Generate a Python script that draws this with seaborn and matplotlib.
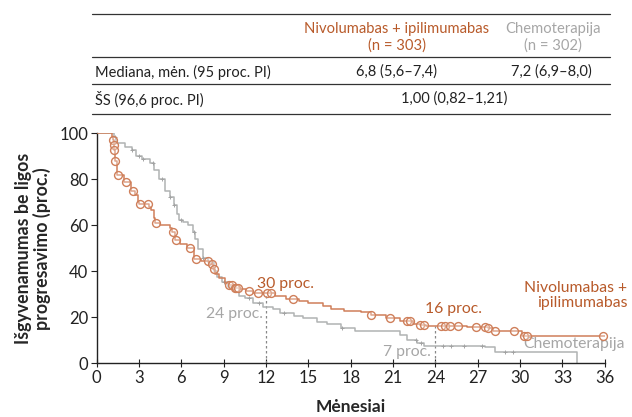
import numpy as np
import pandas as pd
import matplotlib
matplotlib.use("Agg")
import matplotlib.pyplot as plt
from matplotlib.lines import Line2D
import seaborn as sns

# ---------------- data ----------------
nivo_t = [0, 1.05, 1.15, 1.2, 1.25, 1.3, 1.45, 1.9, 2.4, 2.7, 2.9, 3.0, 3.7, 3.85, 4.05, 4.15,
          4.45, 5.2, 5.35, 5.55, 5.9, 6.4, 6.9, 7.4, 7.95, 8.25, 8.4, 8.7, 9.1, 9.35, 9.7,
          10.1, 10.6, 11.1, 12.6, 13.4, 14.3, 15.0, 16.0, 16.6, 17.5, 18.7, 19.4, 20.5,
          21.5, 22.4, 22.9, 23.3, 26.2, 27.7, 28.1, 30.1, 36.0]
nivo_s = [100, 98.5, 97, 95, 93, 88, 82, 79, 75, 73, 70, 69.5, 68, 66.5, 63, 61,
          60, 59, 57, 53.5, 52, 50, 45.5, 44.5, 43, 41, 39, 37, 35, 34, 32.8,
          32.2, 31.5, 30.5, 29.2, 28, 27, 26, 24.8, 23.5, 22.8, 22.4, 21, 19.8,
          18.4, 17.2, 16.6, 16.2, 15.7, 15.2, 14.0, 12.0, 12.0]
nivo_cens = [1.15, 1.2, 1.25, 1.3, 1.5, 2.1, 2.6, 3.06, 3.65, 4.2, 5.4, 5.6, 6.6, 7.05,
             7.9, 8.2, 8.3, 9.4, 9.6, 9.8, 9.9, 10.0, 10.8, 11.4, 12.1, 12.35, 13.9,
             19.4, 20.8, 22.0, 22.2, 22.9, 23.2, 24.4, 24.7, 25.0, 25.6, 26.9, 27.5,
             27.7, 28.2, 29.6, 30.3, 30.5, 35.9]

chemo_t = [0, 1.2, 1.4, 2.0, 2.5, 2.75, 3.2, 3.8, 4.05, 4.4, 4.85, 5.2, 5.45, 5.7, 5.85,
           6.1, 6.5, 6.85, 7.0, 7.2, 7.5, 7.9, 8.3, 8.55, 8.85, 9.3, 9.8, 10.05, 10.5,
           11.1, 11.8, 12.5, 13.0, 14.0, 14.6, 15.6, 16.3, 17.3, 18.3, 21.5, 22.0, 22.7,
           23.2, 27.5, 28.2, 34.0]
chemo_s = [100, 98.5, 96, 94, 93, 90, 89, 87, 84, 80, 75, 72.5, 69, 65, 62.5,
           61.5, 60, 57, 54, 49.5, 46, 44, 40, 37.5, 35.5, 33, 31, 29.2, 28.3,
           26, 24.5, 23.5, 22, 20.5, 19.6, 18, 17, 15.3, 13.8, 12.3, 10.2, 8.8,
           7.7, 7.2, 5.0, 0.0]
chemo_cens = [1.3, 2.5, 3.0, 3.3, 4.0, 4.6, 5.2, 5.5, 6.0, 6.9, 7.5, 9.0, 9.6, 10.8,
              11.5, 13.3, 17.4, 22.6, 23.0, 24.5, 25.1, 26.0, 27.3, 28.9, 29.5]

xticks = list(range(0, 37, 3))
yticks = [0, 20, 40, 60, 80, 100]

table_headers = ["Nivolumabas + ipilimumabas\n(n = 303)", "Chemoterapija\n(n = 302)"]
row1 = ["Mediana, mėn. (95 proc. PI)", "6,8 (5,6–7,4)", "7,2 (6,9–8,0)"]
row2 = ["ŠS (96,6 proc. PI)", "1,00 (0,82–1,21)"]

# ---------------- style ----------------
ORANGE_TXT = "#B85A2A"
ORANGE_LN = "#CF7F5A"
GRAY_TXT = "#A6A6A6"
GRAY_LN = "#B0B3B3"

sns.set_style("ticks")
plt.rcParams["font.family"] = ["Lato", "DejaVu Sans"]
plt.rcParams["text.color"] = "#222222"

fig = plt.figure(figsize=(6.32, 4.17), dpi=100)
ax = fig.add_axes([0.153, 0.129, 0.804, 0.551])

def step_val(tt, ss, x):
    i = np.searchsorted(np.asarray(tt), x, side="right") - 1
    return np.asarray(ss)[i]

df_n = pd.DataFrame({"t": nivo_t, "s": nivo_s})
df_c = pd.DataFrame({"t": chemo_t, "s": chemo_s})
sns.lineplot(data=df_c, x="t", y="s", drawstyle="steps-post", estimator=None,
             color=GRAY_LN, lw=1.1, ax=ax, zorder=2)
sns.lineplot(data=df_n, x="t", y="s", drawstyle="steps-post", estimator=None,
             color=ORANGE_LN, lw=1.1, ax=ax, zorder=3)

cn = pd.DataFrame({"t": nivo_cens, "s": [step_val(nivo_t, nivo_s, x) for x in nivo_cens]})
cc = pd.DataFrame({"t": chemo_cens, "s": [step_val(chemo_t, chemo_s, x) for x in chemo_cens]})
sns.scatterplot(data=cc, x="t", y="s", marker="+", s=12, color="#A3A3A3",
                linewidth=0.7, ax=ax, zorder=2)
sns.scatterplot(data=cn, x="t", y="s", marker="o", s=32, facecolor=(1, 1, 1, 0.3),
                edgecolor=ORANGE_LN, linewidth=1.0, ax=ax, zorder=4, clip_on=False)

# dashed reference lines
ax.plot([12, 12], [0, step_val(nivo_t, nivo_s, 12)], ls=(0, (2, 2)), color="#888888", lw=0.9, zorder=1)
ax.plot([24, 24], [0, step_val(nivo_t, nivo_s, 24)], ls=(0, (2, 2)), color="#888888", lw=0.9, zorder=1)

# annotations
FS_A = 11.3
ax.text(13.4, 34.5, "30 proc.", color=ORANGE_TXT, fontsize=FS_A, ha="center", va="center")
ax.text(11.8, 21.5, "24 proc.", color=GRAY_TXT, fontsize=FS_A, ha="right", va="center")
ax.text(25.3, 23.5, "16 proc.", color=ORANGE_TXT, fontsize=FS_A, ha="center", va="center")
ax.text(23.7, 4.8, "7 proc.", color=GRAY_TXT, fontsize=FS_A, ha="right", va="center")
ax.text(37.6, 29.5, "Nivolumabas +\nipilimumabas", color=ORANGE_TXT, fontsize=FS_A,
        ha="right", va="center", linespacing=1.1, clip_on=False)
ax.text(37.4, 8.5, "Chemoterapija", color=GRAY_TXT, fontsize=FS_A, ha="right",
        va="center", clip_on=False)

ax.set_xlim(0, 36)
ax.set_ylim(0, 100)
ax.set_xticks(xticks)
ax.set_yticks(yticks)
ax.tick_params(axis="both", labelsize=12, length=4, width=0.8, colors="#222222", pad=2)
ax.tick_params(axis="x", direction="inout", length=6)
for sp in ["top", "right"]:
    ax.spines[sp].set_visible(False)
for sp in ["left", "bottom"]:
    ax.spines[sp].set_linewidth(1.0)
    ax.spines[sp].set_color("#222222")

ax.set_xlabel("Mėnesiai", fontsize=12.5, fontweight="bold", va="center")
ax.xaxis.set_label_coords(0.5, -0.192)
ax.set_ylabel("Išgyvenamumas be ligos\nprogresavimo (proc.)", fontsize=12.8,
              fontweight="bold", linespacing=1.05, va="center", ha="center")
ax.yaxis.set_label_coords(-0.126, 0.5)

# ---------------- table ----------------
W, H = 632, 417
def fx(px): return px / W
def fy(py): return 1 - py / H

for ly in [13.5, 57, 83.5, 113.5]:
    fig.add_artist(Line2D([fx(92), fx(610)], [fy(ly), fy(ly)], color="#333333", lw=0.9))

fig.text(fx(397), fy(37.5), table_headers[0], color=ORANGE_TXT, fontsize=10.6,
         ha="center", va="center", linespacing=1.2)
fig.text(fx(553), fy(37.5), table_headers[1], color=GRAY_TXT, fontsize=10.6,
         ha="center", va="center", linespacing=1.2)
fig.text(fx(95), fy(72), row1[0], fontsize=10.5, ha="left", va="center")
fig.text(fx(396), fy(72), row1[1], fontsize=10.5, ha="center", va="center")
fig.text(fx(551), fy(72), row1[2], fontsize=10.5, ha="center", va="center")
fig.text(fx(95), fy(99), row2[0], fontsize=10.5, ha="left", va="center")
fig.text(fx(454), fy(99), row2[1], fontsize=10.5, ha="center", va="center")

fig.savefig("out.png", dpi=100)
